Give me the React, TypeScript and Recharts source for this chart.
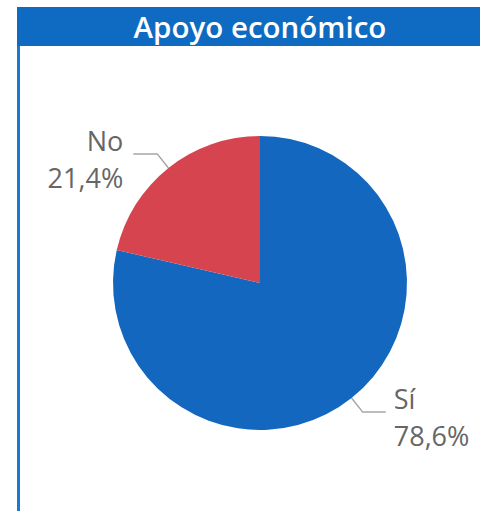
import React from 'react';
import { PieChart, Pie, Cell } from 'recharts';

// Chart data
const categories = ['Sí', 'No'];
const shares = [78.6, 21.4];
const sliceColors = ['#1467BF', '#D6454F'];

const chartData = categories.map((name, i) => ({ name, value: shares[i] }));

const FONT = '"Open Sans", "Segoe UI", sans-serif';

const renderLabel = (props: any) => {
  const { cx, cy, midAngle, outerRadius, name, value } = props;
  const rad = (Math.PI / 180) * midAngle;
  const cos = Math.cos(rad);
  const sin = -Math.sin(rad);
  const sx = cx + outerRadius * cos;
  const sy = cy + outerRadius * sin;
  const mx = cx + (outerRadius + 18) * cos;
  const my = cy + (outerRadius + 18) * sin;
  const right = cos >= 0;
  const ex = mx + (right ? 23 : -24);
  const tx = ex + (right ? 8 : -10);
  const anchor = right ? 'start' : 'end';
  const pct = value.toFixed(1).replace('.', ',') + '%';
  return (
    <g>
      <polyline points={`${sx},${sy} ${mx},${my} ${ex},${my}`} fill="none" stroke="#A6A6A6" strokeWidth={1.5} />
      <text x={tx} y={my - 3} textAnchor={anchor} fill="#666666" fontSize={27} fontFamily={FONT}>{name}</text>
      <text x={tx} y={my + 34} textAnchor={anchor} fill="#666666" fontSize={27} fontFamily={FONT}>{pct}</text>
    </g>
  );
};

export default function App() {
  return (
    <div style={{ position: 'absolute', left: 0, top: 0, width: 480, height: 511, background: '#fff', overflow: 'hidden' }}>
      {/* title bar */}
      <div
        style={{
          position: 'absolute', left: 17, top: 7, width: 440, height: 39, paddingLeft: 23,
          background: '#0F6BC1', color: '#fff', fontFamily: FONT, fontWeight: 600,
          fontSize: 29.5, lineHeight: '39px', textAlign: 'center', whiteSpace: 'nowrap',
        }}
      >
        Apoyo económico
      </div>
      {/* left border */}
      <div style={{ position: 'absolute', left: 17, top: 46, width: 3, height: 465, background: '#1C78D4' }} />
      <div style={{ position: 'absolute', left: 0, top: 0 }}>
        <PieChart width={480} height={511} margin={{ top: 0, right: 0, bottom: 0, left: 0 }}>
          <Pie
            data={chartData}
            dataKey="value"
            nameKey="name"
            cx={260}
            cy={283}
            outerRadius={147}
            startAngle={90}
            endAngle={-270}
            stroke="none"
            label={renderLabel}
            labelLine={false}
            isAnimationActive={false}
          >
            {chartData.map((entry, index) => (
              <Cell key={`cell-${index}`} fill={sliceColors[index]} />
            ))}
          </Pie>
        </PieChart>
      </div>
    </div>
  );
}
